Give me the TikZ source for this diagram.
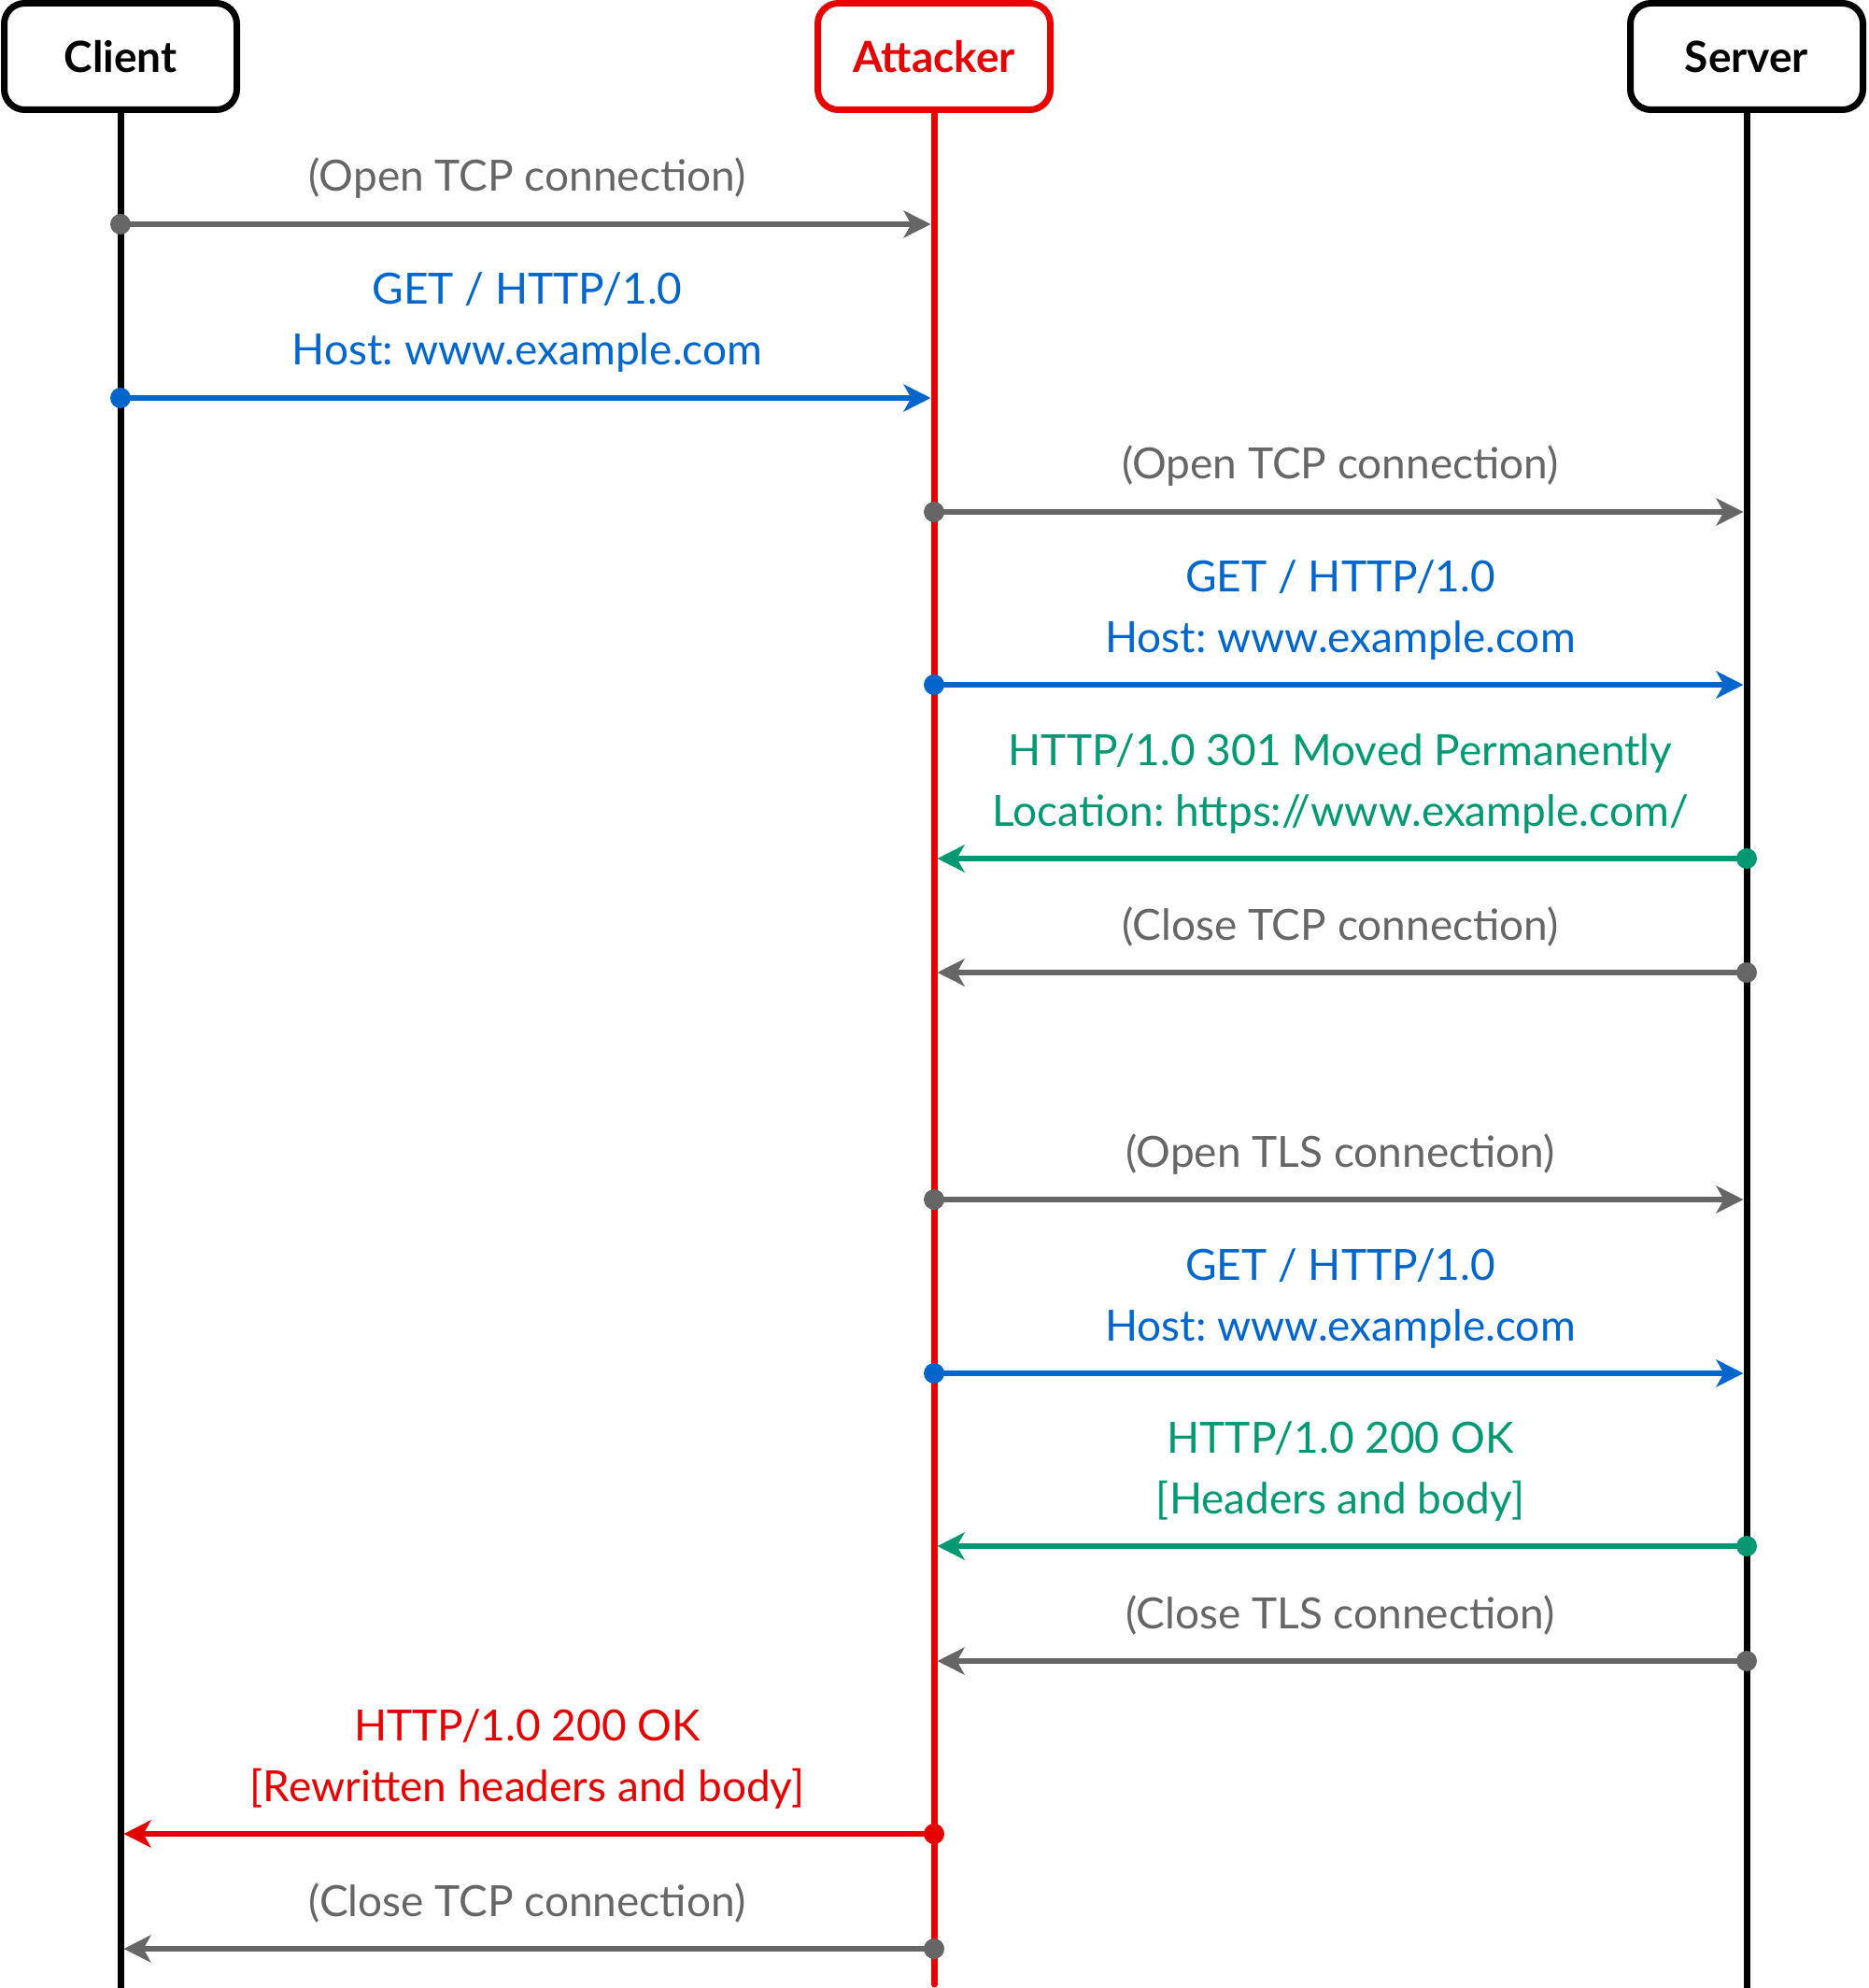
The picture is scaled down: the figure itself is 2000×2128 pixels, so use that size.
\documentclass[tikz,border=0pt]{standalone}
\usepackage{fontspec}
\setmainfont{Lato}
\usetikzlibrary{arrows.meta,calc}
\setlength{\tabcolsep}{0pt}
\frenchspacing
\definecolor{msggray}{HTML}{666666}
\definecolor{msgblue}{HTML}{0066CC}
\definecolor{msggreen}{HTML}{009973}
\definecolor{msgred}{HTML}{E60000}
\newcommand{\twolines}[2]{\begin{tabular}[b]{c}#1\\\relax #2\end{tabular}}
\newcommand{\seqmsg}[7]{%
  \coordinate (#1s) at (#3,#5);
  \coordinate (#1e) at (#4,#5);
  \draw[msg, color=#2] (#1s) -- (#1e);
  \node[startdot, fill=#2] (#1dot) at (#1s) {};
  \node[lbl, text=#2] (#1lbl) at (#6,#5-35) {#7};
}
\begin{document}
\begin{tikzpicture}[x=0.5pt,y=-0.5pt,
  actor/.style={draw, line width=3.5pt, rounded corners=11pt, minimum width=124.5pt, minimum height=57pt, inner sep=0pt, fill=white, font=\fontsize{23}{28}\selectfont\bfseries},
  lifeline/.style={line width=3.5pt, line cap=round},
  msg/.style={line width=3.2pt, -{Stealth[length=14.5pt,width=14.5pt,inset=4pt]}, shorten >=1.75pt},
  startdot/.style={circle, inner sep=0pt, minimum size=11pt},
  lbl/.style={anchor=base, inner sep=0pt, font=\fontsize{23}{32.5}\selectfont\frenchspacing},
]
\useasboundingbox (0,0) rectangle (2000,2128);
% lifelines
\coordinate (clientend) at (129,2128);
\coordinate (attackerend) at (1000,2124);
\coordinate (serverend) at (1870,2128);
\draw[lifeline] (129,60) -- (clientend);
\draw[lifeline, msgred] (1000,60) -- (attackerend);
\draw[lifeline] (1870,60) -- (serverend);
% actors
\node[actor] (client) at (129,60.5) {Client};
\node[actor, draw=msgred, text=msgred] (attacker) at (1000,60.5) {Attacker};
\node[actor] (server) at (1870,60.5) {Server};
% messages
\seqmsg{m1}{msggray}{129}{1000}{240}{564.5}{(Open TCP connection)}
\seqmsg{m2}{msgblue}{129}{1000}{426}{564.5}{\twolines{GET / HTTP/1.0}{Host: www.example.com}}
\seqmsg{m3}{msggray}{1000}{1870}{548}{1435}{(Open TCP connection)}
\seqmsg{m4}{msgblue}{1000}{1870}{733}{1435}{\twolines{GET / HTTP/1.0}{Host: www.example.com}}
\seqmsg{m5}{msggreen}{1870}{1000}{919}{1435}{\twolines{HTTP/1.0 301 Moved Permanently}{Location: https://www.example.com/}}
\seqmsg{m6}{msggray}{1870}{1000}{1041}{1435}{(Close TCP connection)}
\seqmsg{m7}{msggray}{1000}{1870}{1284}{1435}{(Open TLS connection)}
\seqmsg{m8}{msgblue}{1000}{1870}{1470}{1435}{\twolines{GET / HTTP/1.0}{Host: www.example.com}}
\seqmsg{m9}{msggreen}{1870}{1000}{1655}{1435}{\twolines{HTTP/1.0 200 OK}{[Headers and body]}}
\seqmsg{m10}{msggray}{1870}{1000}{1778}{1435}{(Close TLS connection)}
\seqmsg{m11}{msgred}{1000}{129}{1963}{564.5}{\twolines{HTTP/1.0 200 OK}{[Rewritten headers and body]}}
\seqmsg{m12}{msggray}{1000}{129}{2086}{564.5}{(Close TCP connection)}
\end{tikzpicture}
\end{document}
